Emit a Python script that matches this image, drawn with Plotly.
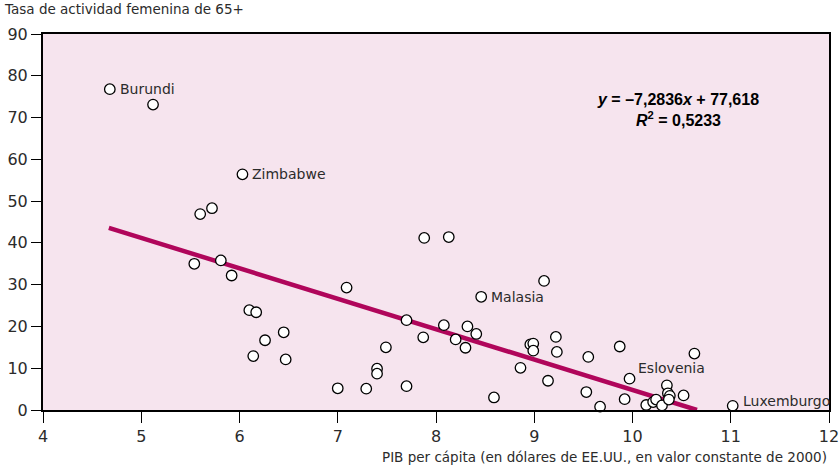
import plotly.graph_objects as go

# PIB per cápita (log) vs tasa de actividad femenina 65+
gdp = [4.68, 5.12, 6.03, 5.60, 5.72, 5.54, 5.81, 5.92, 6.10, 6.17, 6.26, 6.45, 6.14, 6.47,
       7.09, 7.70, 7.49, 7.40, 7.40, 7.00, 7.29, 7.70, 7.87, 7.88, 8.13, 9.10, 8.46,
       8.08, 8.32, 8.41, 8.20, 8.30, 8.96, 8.99, 8.99, 9.22, 9.23, 9.55, 9.87, 10.63,
       8.86, 9.14, 9.97, 8.59, 9.53, 9.67, 9.92, 10.14, 10.21, 10.24, 10.30, 10.35,
       10.36, 10.38, 10.37, 10.52, 11.02]
activity = [76.8, 73.1, 56.4, 46.9, 48.3, 35.0, 35.8, 32.2, 23.9, 23.4, 16.7, 18.6, 12.9, 12.1,
            29.3, 21.5, 15.0, 9.9, 8.7, 5.2, 5.1, 5.7, 17.4, 41.2, 41.4, 30.9, 27.1,
            20.3, 20.0, 18.2, 16.9, 14.9, 15.7, 15.9, 14.2, 17.5, 13.9, 12.7, 15.2, 13.5,
            10.1, 7.0, 7.5, 3.0, 4.3, 0.8, 2.6, 1.2, 1.9, 2.5, 1.1, 5.9,
            4.0, 3.4, 2.5, 3.5, 1.0]

# Labelled countries: (name, x, y)
label_names = ["Burundi", "Zimbabwe", "Malasia", "Eslovenia", "Luxemburgo"]
label_x = [4.68, 6.03, 8.46, 10.03, 11.02]
label_y = [76.8, 56.4, 27.1, 10.0, 1.0]

# Regression line y = -7.2836x + 77.618
slope = -7.2836
intercept = 77.618
fit_x = [4.67, 10.656]
fit_y = [slope * v + intercept for v in fit_x]

x_ticks = [4, 5, 6, 7, 8, 9, 10, 11, 12]
y_ticks = [0, 10, 20, 30, 40, 50, 60, 70, 80, 90]

FONT = "DejaVu Sans"
BOLDFONT = "Liberation Sans"
TXT = "#2b2b2b"

fig = go.Figure()
fig.add_trace(go.Scatter(
    x=fit_x, y=fit_y, mode="lines",
    line=dict(color="#B0065B", width=4.5),
    hoverinfo="skip", showlegend=False, cliponaxis=False,
))
fig.add_trace(go.Scatter(
    x=gdp, y=activity, mode="markers",
    marker=dict(size=10.5, color="white", line=dict(color="black", width=1.3)),
    showlegend=False, cliponaxis=False,
))

annotations = []
for name, xv, yv in zip(label_names, label_x, label_y):
    if name == "Eslovenia":
        annotations.append(dict(x=xv, y=yv, xref="x", yref="y", text=name, showarrow=False,
                                xanchor="left", yanchor="middle", xshift=1, yshift=0,
                                font=dict(family=FONT, size=14, color=TXT)))
    elif name == "Luxemburgo":
        annotations.append(dict(x=xv, y=yv, xref="x", yref="y", text=name, showarrow=False,
                                xanchor="left", yanchor="middle", xshift=8, yshift=5,
                                font=dict(family=FONT, size=14, color=TXT)))
    else:
        annotations.append(dict(x=xv, y=yv, xref="x", yref="y", text=name, showarrow=False,
                                xanchor="left", yanchor="middle", xshift=8, yshift=0,
                                font=dict(family=FONT, size=14, color=TXT)))

annotations.append(dict(
    x=0.808, y=0.797, xref="paper", yref="paper", showarrow=False,
    text="<b><i>y</i> = –7,2836<i>x</i> + 77,618</b><br><b><i>R</i><sup>2</sup> = 0,5233</b>",
    align="center", xanchor="center", yanchor="middle",
    font=dict(family=BOLDFONT, size=16, color="black"),
))
annotations.append(dict(
    x=0, y=1, xref="paper", yref="paper", showarrow=False,
    text="Tasa de actividad femenina de 65+", xanchor="left", yanchor="middle",
    xshift=-41, yshift=25, font=dict(family=FONT, size=13.5, color=TXT),
))
annotations.append(dict(
    x=1, y=0, xref="paper", yref="paper", showarrow=False,
    text="PIB per cápita (en dólares de EE.UU., en valor constante de 2000)",
    xanchor="right", yanchor="middle", xshift=0, yshift=-47,
    font=dict(family=FONT, size=13.5, color=TXT),
))

fig.update_layout(
    width=839, height=470,
    margin=dict(l=43, r=10, t=34, b=60, autoexpand=False),
    paper_bgcolor="white",
    plot_bgcolor="#F6E4EE",
    annotations=annotations,
    xaxis=dict(range=[4, 12], tickvals=x_ticks, ticktext=[str(v) for v in x_ticks],
               automargin=False, ticklabeloverflow="allow",
               showgrid=False, zeroline=False, showline=True, linecolor="black", linewidth=2,
               mirror=True, ticks="outside", ticklen=11, tickcolor="black", tickwidth=1,
               tickfont=dict(family=FONT, size=16, color=TXT)),
    yaxis=dict(range=[0, 90], tickvals=y_ticks, ticktext=[str(v) for v in y_ticks],
               automargin=False, ticklabeloverflow="allow",
               showgrid=False, zeroline=False, showline=True, linecolor="black", linewidth=2,
               mirror=True, ticks="outside", ticklen=10, tickcolor="black", tickwidth=1,
               tickfont=dict(family=FONT, size=16, color=TXT)),
)

fig.write_html("out.html", config={"displayModeBar": False},
               post_script="document.body.style.margin='0';document.body.style.overflow='hidden';")
